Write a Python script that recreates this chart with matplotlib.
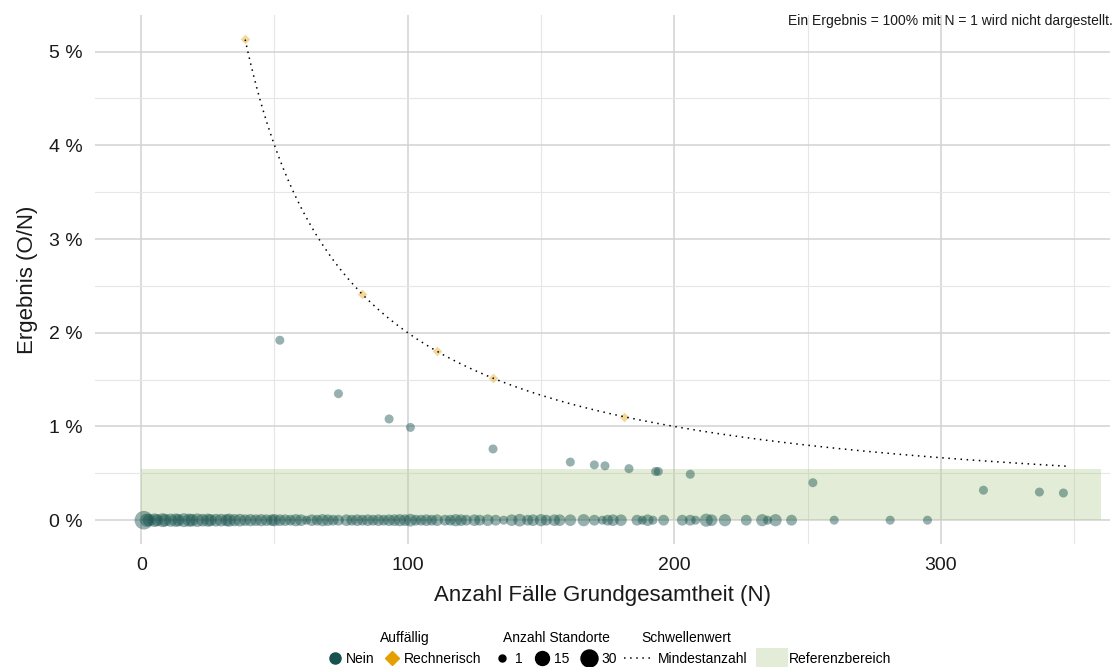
import matplotlib
matplotlib.use("Agg")
import matplotlib.pyplot as plt
from matplotlib.lines import Line2D
from matplotlib.patches import Patch
from matplotlib.ticker import FuncFormatter, MultipleLocator
import numpy as np

plt.rcParams["font.family"] = ["Liberation Sans", "DejaVu Sans"]

TEAL = "#17524e"
ORANGE = "#e69f00"
BAND = "#a9c784"

# Standorte mit Ergebnis 0 % (N, Anzahl Standorte)
zero_n = [1, 2, 3, 5, 6, 8, 9, 11, 13, 14, 16, 18, 19, 21, 23, 25, 26, 28, 30, 32,
          33, 35, 37, 39, 41, 43, 45, 47, 49, 50, 52, 54, 56, 58, 60, 62, 64, 66, 68, 70,
          72, 74, 77, 79, 81, 83, 85, 87, 89, 91, 93, 95, 97, 99, 101, 103, 105, 107, 109, 111,
          114, 116, 118, 120, 122, 125, 127, 130, 133, 136, 139, 142, 145, 147, 150, 152, 155, 157, 161, 166,
          170, 173, 175, 177, 180, 186, 188, 190, 192, 196, 203, 206, 208, 212, 214, 219, 227, 233, 235, 238,
          244, 260, 281, 295]
zero_cnt = [28, 6, 5, 7, 4, 8, 5, 6, 7, 4, 8, 6, 5, 7, 5, 6, 4, 5, 5, 4,
            6, 4, 5, 3, 4, 3, 4, 3, 3, 4, 3, 3, 2, 4, 3, 1, 3, 2, 4, 3,
            2, 2, 3, 2, 3, 2, 3, 2, 3, 2, 3, 3, 4, 3, 5, 2, 2, 3, 2, 3,
            2, 2, 4, 3, 2, 3, 2, 3, 2, 1, 3, 5, 2, 3, 4, 2, 3, 3, 3, 4,
            2, 1, 2, 3, 3, 2, 1, 3, 1, 2, 2, 2, 1, 6, 3, 4, 2, 4, 1, 4,
            2, 1, 1, 1]

# Standorte mit Ergebnis > 0 %, nicht auffällig
pos_n = [52, 74, 93, 101, 132, 161, 170, 174, 183, 193, 194, 206, 252, 316, 337, 346]
pos_val = [1.92, 1.35, 1.08, 0.99, 0.76, 0.62, 0.59, 0.58, 0.55, 0.52, 0.52, 0.49, 0.40, 0.32, 0.30, 0.29]

# rechnerisch auffällige Standorte
auff_n = [39, 83, 111, 132, 181]
auff_val = [5.13, 2.41, 1.80, 1.52, 1.10]

# Schwellenwert: Mindestanzahl 2 Fälle
MIN_COUNT = 2
curve_n_start, curve_n_end = 39, 347

# Referenzbereich
ref_upper = 0.55
ref_n_end = 360


def marker_px(cnt):
    return 9 + 10 * np.sqrt((np.asarray(cnt, float) - 1) / 29)


fig = plt.figure(figsize=(11.19, 6.67), dpi=100)
ax = fig.add_axes([0.085, 0.184, 0.907, 0.793])

ax.fill_between([0, ref_n_end], 0, ref_upper, color=BAND, alpha=0.33, lw=0, zorder=2)

all_n = zero_n + pos_n
all_v = [0] * len(zero_n) + pos_val
all_c = zero_cnt + [1] * len(pos_n)
ax.scatter(all_n, all_v, s=(marker_px(all_c) * 0.72) ** 2, color=TEAL, alpha=0.45, lw=0, zorder=3)
ax.scatter(auff_n, auff_val, s=24, marker="D", color=ORANGE, alpha=0.4, lw=0, zorder=3)

nn = np.linspace(curve_n_start, curve_n_end, 300)
ax.plot(nn, 100 * MIN_COUNT / nn, color="black", lw=1.1, ls=(0, (1, 3)), zorder=4)

ax.set_xlim(-17.3, 363.5)
ax.set_ylim(-0.257, 5.387)
ax.xaxis.set_major_locator(MultipleLocator(100))
ax.xaxis.set_minor_locator(MultipleLocator(50))
ax.yaxis.set_major_locator(MultipleLocator(1))
ax.yaxis.set_minor_locator(MultipleLocator(0.5))
ax.yaxis.set_major_formatter(FuncFormatter(lambda v, p: f"{v:.0f} %"))
ax.grid(which="major", color="#d2d2d2", lw=1.1, zorder=0)
ax.grid(which="minor", color="#e6e6e6", lw=0.8, zorder=0)
ax.set_axisbelow(True)
for s in ax.spines.values():
    s.set_visible(False)
ax.tick_params(which="both", length=0, labelsize=14, colors="#1a1a1a", pad=9)

ax.set_xlabel("Anzahl Fälle Grundgesamtheit (N)", fontsize=16, color="#1a1a1a", labelpad=8)
ax.set_ylabel("Ergebnis (O/N)", fontsize=16, color="#1a1a1a", labelpad=8)

fig.text(0.994, 0.968, "Ein Ergebnis = 100% mit N = 1 wird nicht dargestellt.",
         ha="right", va="center", fontsize=10, color="#1a1a1a")

leg_kw = dict(frameon=False, fontsize=10, title_fontsize=10, handletextpad=0.4,
              columnspacing=0.9, borderpad=0, loc="center")

h1 = [Line2D([0], [0], marker="o", color=TEAL, ls="", markersize=8, label="Nein"),
      Line2D([0], [0], marker="D", color=ORANGE, ls="", markersize=7, label="Rechnerisch")]
l1 = fig.legend(handles=h1, title="Auffällig", ncol=2, handlelength=0.8,
                bbox_to_anchor=(0.362, 0.028), **leg_kw)

sizes = [1, 15, 30]
h2 = [Line2D([0], [0], marker="o", color="black", ls="",
             markersize=(7 + 10 * np.sqrt((v - 1) / 29)) * 0.72, label=str(v)) for v in sizes]
l2 = fig.legend(handles=h2, title="Anzahl Standorte", ncol=3, handlelength=1.0,
                bbox_to_anchor=(0.497, 0.028), **leg_kw)

h3 = [Line2D([0], [0], color="black", lw=1.1, ls=(0, (1, 3)), label="Mindestanzahl")]
l3 = fig.legend(handles=h3, title="Schwellenwert", ncol=1, handlelength=2.0,
                bbox_to_anchor=(0.613, 0.028), **leg_kw)

h4 = [Patch(facecolor=BAND, alpha=0.33, lw=0, label="Referenzbereich")]
l4 = fig.legend(handles=h4, ncol=1, handlelength=2.3, handleheight=2.0, handletextpad=0.1,
                frameon=False, fontsize=10, borderpad=0, loc="center",
                bbox_to_anchor=(0.736, 0.012))

fig.savefig("out.png", dpi=100, facecolor="white")
